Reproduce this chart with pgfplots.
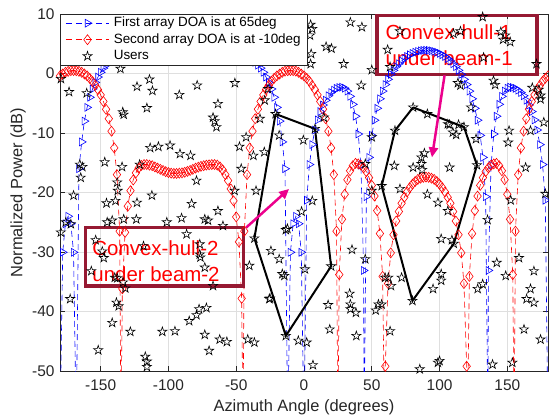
\documentclass[border=0pt]{standalone}
\usepackage{fontspec}
\setmainfont{Liberation Sans}
\usepackage{pgfplots}
\pgfplotsset{compat=1.18}
\usetikzlibrary{arrows.meta}

\definecolor{axgray}{RGB}{38,38,38}
\definecolor{hullbox}{RGB}{150,25,50}
\definecolor{gridgray}{RGB}{223,223,223}

% open five-pointed star (MATLAB pentagram)
\pgfdeclareplotmark{pstar}{%
  \pgfpathmoveto{\pgfpointpolar{90}{\pgfplotmarksize}}%
  \pgfpathlineto{\pgfpointpolar{126}{0.382\pgfplotmarksize}}%
  \pgfpathlineto{\pgfpointpolar{162}{\pgfplotmarksize}}%
  \pgfpathlineto{\pgfpointpolar{198}{0.382\pgfplotmarksize}}%
  \pgfpathlineto{\pgfpointpolar{234}{\pgfplotmarksize}}%
  \pgfpathlineto{\pgfpointpolar{270}{0.382\pgfplotmarksize}}%
  \pgfpathlineto{\pgfpointpolar{306}{\pgfplotmarksize}}%
  \pgfpathlineto{\pgfpointpolar{342}{0.382\pgfplotmarksize}}%
  \pgfpathlineto{\pgfpointpolar{18}{\pgfplotmarksize}}%
  \pgfpathlineto{\pgfpointpolar{54}{0.382\pgfplotmarksize}}%
  \pgfpathclose
  \pgfusepathqstroke
}

\pgfplotsset{
  linelegend/.style={legend image code/.code={%
    \draw[mark repeat=2,mark phase=2,##1] plot coordinates {(0bp,0bp) (21.5bp,0bp) (43bp,0bp)};}},
  starlegend/.style={legend image code/.code={%
    \path (0bp,0bp) (43bp,0bp); \draw[##1] plot coordinates {(21.5bp,0bp)};}},
}

\begin{document}
\begin{tikzpicture}
\begin{axis}[
    at={(0,0)}, anchor=south west,
    scale only axis, width=488bp, height=357bp,
    xmin=-180, xmax=180, ymin=-50, ymax=10,
    xtick={-150,-100,...,150}, ytick={-50,-40,...,10},
    grid=major, major grid style={gridgray, line width=0.6bp},
    axis line style={axgray, line width=0.7bp},
    tick style={axgray, line width=0.7bp}, major tick length=5bp,
    tick align=inside,
    ticklabel style={font=\fontsize{15.5}{18}\selectfont, text=axgray},
    /pgf/number format/assume math mode=true,
    xticklabel style={yshift=-5bp}, yticklabel style={xshift=-2bp},
    xlabel={Azimuth Angle (degrees)}, ylabel={Normalized Power (dB)},
    label style={font=\fontsize{16.5}{19}\selectfont, text=axgray},
    xlabel style={at={(axis description cs:0.5,-0.1008)}, anchor=center},
    ylabel style={at={(axis description cs:-0.086,0.5)}, anchor=center},
    legend cell align=left,
    legend style={at={(0,1)}, anchor=north west, draw=axgray, fill=white,
        inner xsep=5.5bp, inner ysep=2bp, row sep=2.5bp, column sep=4bp,
        font=\fontsize{13.5}{16}\selectfont, text=black,
        nodes={inner sep=0.5bp, text height=10bp, text depth=3bp}},
]

% first array, DOA 65 deg
\addplot[blue, line width=0.6bp, dash pattern=on 6bp off 4bp,
    mark=triangle, mark size=4.5bp, mark options={solid, rotate=-90, line width=0.6bp},
    linelegend]
coordinates {
(-180,-60) (-178,-30.05) (-176,-25.25) (-174,-24) (-172,-25.25) (-170,-30.05) (-168,-60)
(-166,-16) (-164,-11.5) (-162,-8) (-160,-5.7) (-158,-4.0) (-156,-2.6) (-154,-1.5)
(-152,-0.6) (-150,0.2) (-148,0.9) (-146,1.4) (-144,1.9) (-142,2.3) (-140,2.6)
(-138,2.85) (-136,3.1) (-134,3.25) (-132,3.4) (-130,3.5) (-128,3.6) (-126,3.65)
(-124,3.7) (-122,3.75) (-120,3.8) (-118,3.8) (-116,3.85) (-114,3.85) (-112,3.85)
(-110,3.9) (-106,3.9) (-102,3.9) (-98,3.9) (-94,3.9) (-90,3.9) (-86,3.9) (-82,3.9)
(-78,3.9) (-74,3.9) (-70,3.9) (-68,3.85) (-66,3.85) (-64,3.85) (-62,3.8) (-60,3.8)
(-58,3.75) (-56,3.7) (-54,3.65) (-52,3.6) (-50,3.5) (-48,3.4) (-46,3.25) (-44,3.1)
(-42,2.85) (-40,2.6) (-38,2.3) (-36,1.9) (-34,1.4) (-32,0.9) (-30,0.2) (-28,-0.6)
(-26,-1.5) (-24,-2.6) (-22,-4.0) (-20,-5.7) (-18,-8) (-16,-11.5) (-14,-16) (-12,-60)
(-10,-30.05) (-8,-25.25) (-6,-24) (-4,-25.25) (-2,-30.05) (0,-60)
(2,-21.3) (4,-15.3) (6,-11.95) (8,-9.5) (10,-7.8) (12,-6.4) (14,-5.3) (16,-4.5)
(18,-3.74) (20,-3.2) (22,-2.8) (24,-2.5) (26,-2.36) (28,-2.3) (30,-2.47) (32,-2.96)
(34,-3.84) (36,-5.18) (38,-7.18) (40,-10.17) (42,-15.4) (44,-33.1) (44.3,-60)
(46,-20.7) (48,-14.1) (50,-10.4) (52,-7.85) (54,-5.85) (56,-4.25) (58,-2.96)
(60,-1.86) (62,-0.98) (64,-0.15) (66,0.53) (68,1.15) (70,1.64) (72,2.11) (74,2.52)
(76,2.86) (78,3.15) (80,3.37) (82,3.57) (84,3.71) (86,3.82) (88,3.88) (90,3.9)
(92,3.88) (94,3.82) (96,3.71) (98,3.57) (100,3.37) (102,3.15) (104,2.86) (106,2.52)
(108,2.11) (110,1.64) (112,1.15) (114,0.53) (116,-0.15) (118,-0.98) (120,-1.86)
(122,-2.96) (124,-4.25) (126,-5.85) (128,-7.85) (130,-10.4) (132,-14.1) (134,-20.7)
(135.7,-60) (136,-33.1) (138,-15.4) (140,-10.17) (142,-7.18) (144,-5.18) (146,-3.84)
(148,-2.96) (150,-2.47) (152,-2.3) (154,-2.36) (156,-2.5) (158,-2.8) (160,-3.2)
(162,-3.74) (164,-4.5) (166,-5.3) (168,-6.4) (170,-7.8) (172,-9.5) (174,-11.95)
(176,-15.3) (178,-21.3) (180,-60)
};
\addlegendentry{\makebox[187bp][l]{First array DOA is at 65deg}}

% second array, DOA -10 deg
\addplot[red, line width=0.6bp, dash pattern=on 6bp off 4bp,
    mark=diamond, mark size=5bp, mark options={solid, line width=0.6bp},
    linelegend]
coordinates {
(-180,-0.4) (-178,-0.08) (-176,0.2) (-174,0.36) (-172,0.47) (-170,0.5) (-168,0.47)
(-166,0.36) (-164,0.2) (-162,-0.08) (-160,-0.4) (-158,-0.83) (-156,-1.34) (-154,-1.96)
(-152,-2.71) (-150,-3.6) (-148,-4.7) (-146,-6.02) (-144,-7.6) (-142,-9.7) (-140,-12.5)
(-138,-17.0) (-136,-26.5) (-135,-60) (-134,-36.2) (-132,-26.7) (-130,-22.3)
(-128,-19.7) (-126,-17.9) (-124,-16.7) (-122,-15.9) (-120,-15.45) (-118,-15.3)
(-116,-15.3) (-114,-15.4) (-112,-15.5) (-110,-15.7) (-108,-15.9) (-106,-16.1)
(-104,-16.3) (-102,-16.5) (-100,-16.65) (-98,-16.75) (-96,-16.8) (-94,-16.8)
(-92,-16.75) (-90,-16.7) (-88,-16.6) (-86,-16.45) (-84,-16.3) (-82,-16.1) (-80,-15.9)
(-78,-15.75) (-76,-15.6) (-74,-15.5) (-72,-15.4) (-70,-15.35) (-68,-15.3) (-66,-15.3)
(-64,-15.4) (-62,-15.7) (-60,-16.2) (-58,-17.0) (-56,-18.0) (-54,-19.4) (-52,-21.4)
(-50,-24.1) (-48,-28.3) (-46,-37.8) (-45,-60) (-44,-26.5) (-42,-17.0) (-40,-12.5)
(-38,-9.7) (-36,-7.6) (-34,-6.0) (-32,-4.7) (-30,-3.6) (-28,-2.7) (-26,-2.0)
(-24,-1.3) (-22,-0.8) (-20,-0.4) (-18,-0.1) (-16,0.2) (-14,0.4) (-12,0.47) (-10,0.5)
(-8,0.47) (-6,0.4) (-4,0.2) (-2,-0.1) (0,-0.4) (2,-0.8) (4,-1.3) (6,-2.0) (8,-2.7)
(10,-3.6) (12,-4.7) (14,-6.0) (16,-7.6) (18,-9.7) (20,-12.5) (22,-17.0) (24,-26.5)
(25,-60) (26,-33.8) (28,-24.5) (30,-20.3) (32,-17.85) (34,-16.35) (36,-15.5)
(38,-15.1) (40,-15.2) (42,-15.4) (44,-15.85) (46,-16.5) (48,-17.5) (50,-18.8)
(52,-20.6) (54,-23.05) (56,-26.9) (58,-34.1) (59.5,-60) (60,-49.2) (62,-35.3)
(64,-30.15) (66,-27.1) (68,-24.8) (70,-23.2) (72,-21.8) (74,-20.8) (76,-19.9)
(78,-19.2) (80,-18.6) (82,-18.15) (84,-17.8) (86,-17.6) (88,-17.45) (90,-17.4)
(92,-17.45) (94,-17.6) (96,-17.8) (98,-18.15) (100,-18.6) (102,-19.2) (104,-19.9)
(106,-20.8) (108,-21.8) (110,-23.2) (112,-24.8) (114,-27.1) (116,-30.15) (118,-35.3)
(120,-49.2) (120.5,-60) (122,-34.1) (124,-26.9) (126,-23.05) (128,-20.6) (130,-18.8)
(132,-17.5) (134,-16.5) (136,-15.85) (138,-15.4) (140,-15.2) (142,-15.1) (144,-15.5)
(146,-16.35) (148,-17.85) (150,-20.3) (152,-24.5) (154,-33.8) (155,-60) (156,-26.5)
(158,-17.0) (160,-12.5) (162,-9.7) (164,-7.6) (166,-6.0) (168,-4.7) (170,-3.6)
(172,-2.7) (174,-2.0) (176,-1.3) (178,-0.8) (180,-0.4)
};
\addlegendentry{\makebox[187bp][l]{Second array DOA is at -10deg}}

% users
\addplot[only marks, black, mark=pstar, mark size=4.8bp, mark options={line width=0.6bp},
    starlegend]
coordinates {
(-179.3,-0.9) (-173.3,-3.1) (-160.3,-3.3) (-135.4,0.8) (-123.2,-2.2) (-114,-1.0)
(-111.8,-2.9) (-133.7,-6.5) (-133,-6.9) (-115.9,-5.8) (-92,-3.6) (-78.8,-2.0)
(-51,-1.6) (-63.5,-5.1) (-67.1,-7.4) (-65.9,-8.0) (-64.6,-9.0) (-42.7,-10.7)
(-26.5,-2.6) (-29,-4.5) (-32.5,-7.6) (-21,-6.8) (-113.5,-12.5) (-107.4,-12.3)
(-98.8,-12.1) (-91.5,-13.5) (-83.7,-13.8) (-47.6,-12.3) (-37.3,-13.8) (-165.4,-15.3)
(-163.5,-15.7) (-147,-14.9) (-134.2,-15.7) (-121.3,-15.3) (-164.7,-17.5) (-170,-20.5)
(-79.3,-18.0) (-137.8,-18.3) (-137.4,-19.7) (-112.2,-20.5) (-123.2,-21.7) (-145.7,-21.8)
(-139.1,-21.4) (-82.9,-21.9) (-63.5,-23.1) (-51.2,-19.7) (-35.4,-19.7) (-179.4,-26.7)
(-172,-25.3) (-175.7,-25) (-141.5,-24.7) (-145.2,-25) (-133,-24.5) (-123.7,-24.5)
(-101.2,-25) (-90.3,-24.3) (-73.2,-24.5) (-70.8,-24.7) (-59.8,-25.6) (-153.7,-28)
(-148.8,-29.9) (-147.7,-31) (-118.4,-29.0) (-86.6,-27) (-76.9,-28.7) (-76.9,-30.4)
(-76.4,-30.9) (-73.2,-32.6) (-156.9,-33.2) (-139.6,-34.3) (-137.8,-34.4) (-133.5,-35.1)
(-131.8,-36.1) (-67.1,-35.7) (-172.5,-37.9) (-138.4,-38.5) (-136.7,-39.1) (-141.5,-41.9)
(-128.1,-43.4) (-151.8,-46.5) (-117.1,-47.6) (-115.9,-48.4) (-115.9,-49.3) (-104.5,-43.4)
(-95.2,-43.3) (-84.7,-41.6) (-79.3,-40.6) (-77.4,-39.6) (-72,-39.4) (-73.2,-43.9)
(-70,-46.6) (-62.2,-44.7) (-56.9,-45.1) (-41.5,-44.7) (-36.6,-45.2) (-25.6,-37.9)
(-25.1,-37.8) (-16,-33.7) (-14.5,-34) (-13.4,-44.1) (-4.2,-44.9) (2,-45.2) (6.6,-49)
(17.8,-38.9) (19,-43) (33.7,-37) (34.2,-38.8) (34.2,-39.6) (38.3,-40.2) (38.6,-44.1)
(52.9,-39.8) (54.9,-38.8) (57.3,-38.8) (59.8,-34.3) (62.2,-34.3) (64.2,-35.7)
(63.5,-43.3) (72,-34.3) (80,-38.2) (85.4,-49.7) (95.2,-36.2) (101.2,-34.8) (101.2,-33.7)
(100,-48.3) (98.8,-48.6) (128.1,-36.2) (131.8,-35.4) (148.8,-34) (139.1,-48.9)
(153.7,-48.6) (169.6,-33.2) (167.1,-36.2) (164.2,-37.9) (169.6,-38.5) (162.3,-43)
(174.5,-44.7) (-18.3,-10.4) (-0.5,-11.2) (6.1,-21.4) (-1.8,-23.2) (-13.4,-26.3)
(-12.2,-26.1) (-24.4,-29.8) (-18.3,-31.2) (20,-32.4) (35.4,-29.6) (45.2,-31.2)
(45.2,-15.2) (50,-19.7) (57.3,-18.9) (66.6,-15.5) (70.8,-19.4) (80.5,-15.8) (86.6,-15.2)
(87.1,-16.2) (88.8,-13.4) (86.6,-14.1) (107.4,-15.8) (91,-20.3) (98.8,-21.7)
(106.1,-23.1) (101.2,-27.8) (109.1,-28) (110.5,-28.6) (112.2,-10.3) (126.9,-11)
(150.6,-11.6) (127.6,-15.4) (142.2,-31.8) (135.4,-24.6) (152.5,-21.3) (158.6,-31)
(163.5,-15.8) (178,-20.2) (-46.3,-16) (-36.6,-27.7) (-40.3,-32.3) (0.7,-32.9)
(-29.3,-13.2) (4.9,8.2) (6.1,7.5) (4.4,6.4) (5.3,3.3) (4.9,1.6) (34.2,8.6) (42.7,7.8)
(16.3,4.5) (20.3,4.2) (29.3,1.6) (50,0.6) (61.7,4.0) (70.8,7.1) (115.4,7.1) (110.3,6.7)
(131.8,9.5) (145.2,7.0) (148.4,6.4) (146.9,5.7) (152.1,5.3) (132.5,2.7) (171.5,1.6)
(139.8,-1.2) (141,-1.9) (113.5,-1.6) (115.4,-2.0) (168.4,-2.4) (173.3,-2.7)
(174.5,-3.7) (174.5,-4.3) (14.6,-7.4) (80.5,-5.7) (91,-6.8) (107.4,-8.6) (118,-9.0)
(114,-8.6) (106.1,-8.5) (109.8,-9.9) (67.1,-9.6) (50,-10.7) (123.2,-5.7) (42.2,-2.0)
(63.5,1.1) (151.3,-9.6) (167.1,-9.6) (176.9,-8.2) (8.1,-9.3)
};
\addlegendentry{\makebox[187bp][l]{Users}}

% convex hulls
\addplot[black, line width=2bp, forget plot] coordinates {
(-21,-6.8) (8.1,-9.3) (20,-32.4) (-13.4,-44.1) (-36.6,-27.7) (-21,-6.8)
};
\addplot[black, line width=2bp, forget plot] coordinates {
(80.5,-5.7) (118,-9.0) (127.6,-15.4) (110.5,-28.6) (80,-38.2) (57.3,-18.9) (67.1,-9.6) (80.5,-5.7)
};

% annotations
\draw[hullbox, line width=3.5bp] (axis cs:53.8,9.74) rectangle (axis cs:172,-0.17);
\node[anchor=west, inner sep=0pt, text=red, align=left,
    font=\fontsize{20.5}{26}\selectfont] at (axis cs:60,4.8) {Convex-hull-1\\under beam-1};
\draw[hullbox, line width=3.5bp] (axis cs:-161.3,-25.9) rectangle (axis cs:-44.7,-35.7);
\node[anchor=west, inner sep=0pt, text=red, align=left,
    font=\fontsize{20.5}{26}\selectfont] at (axis cs:-156.2,-31.5) {Convex-hull-2\\under beam-2};
\draw[magenta, line width=2.5bp, -{Triangle[length=10bp,width=9bp]}]
    (axis cs:103.7,-0.3) -- (axis cs:94.4,-14.1);
\draw[magenta, line width=2.5bp, -{Triangle[length=10bp,width=9bp]}]
    (axis cs:-42.7,-25.9) -- (axis cs:-11,-19.4);

\end{axis}
\pgfresetboundingbox
\path (-60bp,-45bp) rectangle (489bp,371bp);
\end{tikzpicture}
\end{document}
